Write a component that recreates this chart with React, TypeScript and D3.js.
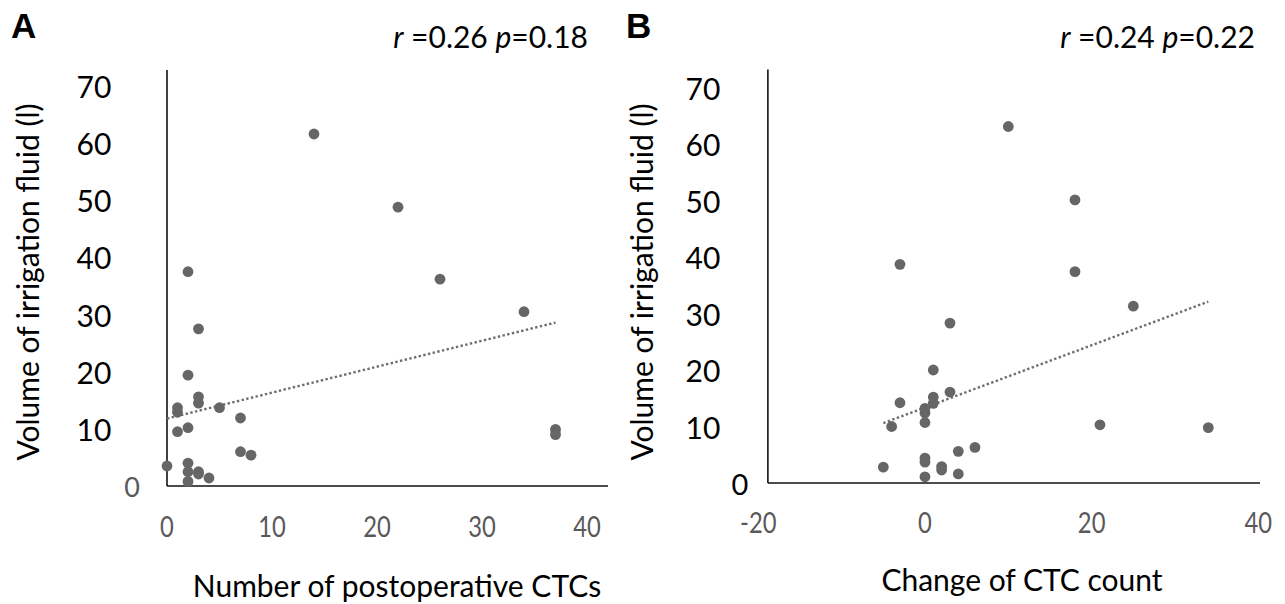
import React, { useEffect, useRef } from 'react';
import * as d3 from 'd3';

// Panel A: postoperative CTCs vs irrigation volume
const postopCTC = [2, 3, 2, 3, 3, 1, 1, 5, 7, 1, 2, 7, 8, 0, 2, 2, 3, 3, 4, 2, 14, 22, 26, 34, 37, 37];
const volumeA = [37.5, 27.5, 19.4, 15.6, 14.5, 13.7, 12.9, 13.7, 11.9, 9.5, 10.2, 6.0, 5.4, 3.5, 4.0, 2.5, 2.5, 2.1, 1.4, 0.8, 61.6, 48.8, 36.2, 30.5, 9.9, 9.0];

// Panel B: change of CTC count vs irrigation volume
const changeCTC = [3, 1, 3, 1, 1, -3, 0, 0, 0, -4, 6, 4, 0, 0, -5, 2, 2, 4, 0, 10, 18, -3, 18, 25, 21, 34];
const volumeB = [28.3, 20.0, 16.1, 15.2, 14.1, 14.2, 13.2, 12.4, 10.7, 10.0, 6.3, 5.6, 4.4, 3.7, 2.8, 2.9, 2.3, 1.6, 1.1, 63.1, 50.1, 38.7, 37.4, 31.3, 10.3, 9.8];

// trend line end points (as drawn in the figure)
const trendAX = [0, 37];
const trendAY = [11.8, 28.6];
const trendBX = [-5, 34];
const trendBY = [10.6, 32.1];

const yTicks = [0, 10, 20, 30, 40, 50, 60, 70];
const xTicksA = [0, 10, 20, 30, 40];
const xTicksB = [-20, 0, 20, 40];

const statsA = { r: '0.26', p: '0.18' };
const statsB = { r: '0.24', p: '0.22' };

const FONT = 'Lato, "Open Sans", sans-serif';
const DOT = '#666666';
const GREY_TEXT = '#595959';

const App = () => {
  const svgRef = useRef<SVGSVGElement | null>(null);

  useEffect(() => {
    document.body.style.margin = '0';
    const svg = d3.select(svgRef.current);
    svg.selectAll('*').remove();

    const drawPanel = (opts: any) => {
      const { xs, ys, x, y, xMin, xMax, yMax, xTicks, trendX, trendY, letter, letterX, stats, statsX,
        yTitleX, yLabelX, zeroX, zeroGrey, xTitle, xTitleX, xTitleY, xLabelY } = opts;
      const g = svg.append('g');

      // axes
      g.append('line')
        .attr('x1', x(xMin)).attr('x2', x(xMin))
        .attr('y1', y(0)).attr('y2', y(yMax))
        .attr('stroke', '#111').attr('stroke-width', 1.6);
      g.append('line')
        .attr('x1', x(xMin)).attr('x2', x(xMax))
        .attr('y1', y(0)).attr('y2', y(0))
        .attr('stroke', '#111').attr('stroke-width', 1.6);

      // y tick labels (black overlay, 0 sits near the axis)
      yTicks.filter(d => d > 0).forEach(d => {
        g.append('text')
          .attr('x', yLabelX).attr('y', y(d))
          .attr('text-anchor', 'middle').attr('dominant-baseline', 'central')
          .style('font-family', FONT).style('font-size', '30px').attr('fill', '#000')
          .text(d);
      });
      g.append('text')
        .attr('x', zeroX).attr('y', y(0))
        .attr('text-anchor', 'middle').attr('dominant-baseline', 'central')
        .style('font-family', FONT).style('font-size', zeroGrey ? '27px' : '29px')
        .attr('fill', zeroGrey ? GREY_TEXT : '#000')
        .text(0);

      // x tick labels (grey, condensed)
      xTicks.forEach((d: number) => {
        g.append('text')
          .attr('transform', `translate(${x(d)},${xLabelY}) scale(0.82,1)`)
          .attr('text-anchor', 'middle').attr('dominant-baseline', 'central')
          .style('font-family', FONT).style('font-size', '29px').attr('fill', GREY_TEXT)
          .text(d);
      });

      // trend line
      g.append('path')
        .datum(trendX.map((d: number, i: number) => [d, trendY[i]]))
        .attr('fill', 'none')
        .attr('stroke', '#6e6e6e')
        .attr('stroke-width', 2.4)
        .attr('stroke-dasharray', '2.4,2.4')
        .attr('d', d3.line<number[]>().x(d => x(d[0])).y(d => y(d[1])));

      // points
      g.selectAll('circle.pt')
        .data(xs.map((d: number, i: number) => [d, ys[i]]))
        .enter().append('circle')
        .attr('class', 'pt')
        .attr('cx', (d: number[]) => x(d[0]))
        .attr('cy', (d: number[]) => y(d[1]))
        .attr('r', 5.4)
        .attr('fill', DOT);

      // panel letter
      g.append('text')
        .attr('x', letterX).attr('y', 38)
        .style('font-family', '"Liberation Sans", Arial, sans-serif')
        .style('font-size', '35px').style('font-weight', 'bold')
        .text(letter);

      // stats
      const st = g.append('text')
        .attr('x', statsX).attr('y', 48)
        .attr('text-anchor', 'end')
        .style('font-family', FONT).style('font-size', '30px');
      st.append('tspan').style('font-style', 'italic').text('r');
      st.append('tspan').text(` =${stats.r} `);
      st.append('tspan').style('font-style', 'italic').text('p');
      st.append('tspan').text(`=${stats.p}`);

      // y title
      g.append('text')
        .attr('transform', `translate(${yTitleX},282) rotate(-90)`)
        .attr('text-anchor', 'middle').attr('dominant-baseline', 'central')
        .style('font-family', FONT).style('font-size', '30px')
        .text('Volume of irrigation fluid (l)');

      // x title
      g.append('text')
        .attr('x', xTitleX).attr('y', xTitleY)
        .attr('text-anchor', 'middle').attr('dominant-baseline', 'central')
        .style('font-family', FONT).style('font-size', '30px')
        .text(xTitle);
    };

    const xA = d3.scaleLinear().domain([0, 40]).range([167, 587]);
    const yA = d3.scaleLinear().domain([0, 70]).range([486, 86]);
    drawPanel({
      xs: postopCTC, ys: volumeA, x: xA, y: yA, xMin: 0, xMax: 42, yMax: 72.8,
      xTicks: xTicksA, trendX: trendAX, trendY: trendAY,
      letter: 'A', letterX: 11, stats: statsA, statsX: 588,
      yTitleX: 27, yLabelX: 94, zeroX: 132, zeroGrey: true,
      xTitle: 'Number of postoperative CTCs', xTitleX: 397, xTitleY: 585, xLabelY: 526,
    });

    const xB = d3.scaleLinear().domain([-20, 40]).range([758.3, 1258.3]);
    const yB = d3.scaleLinear().domain([0, 70]).range([483, 87.5]);
    drawPanel({
      xs: changeCTC, ys: volumeB, x: xB, y: yB, xMin: -18.85, xMax: 40.2, yMax: 73.2,
      xTicks: xTicksB, trendX: trendBX, trendY: trendBY,
      letter: 'B', letterX: 626, stats: statsB, statsX: 1255,
      yTitleX: 641, yLabelX: 703, zeroX: 740, zeroGrey: false,
      xTitle: 'Change of CTC count', xTitleX: 1022, xTitleY: 579, xLabelY: 522,
    });
  }, []);

  return (
    <svg ref={svgRef} width={1285} height={604} style={{ display: 'block', background: '#fff' }} />
  );
};

export default App;
